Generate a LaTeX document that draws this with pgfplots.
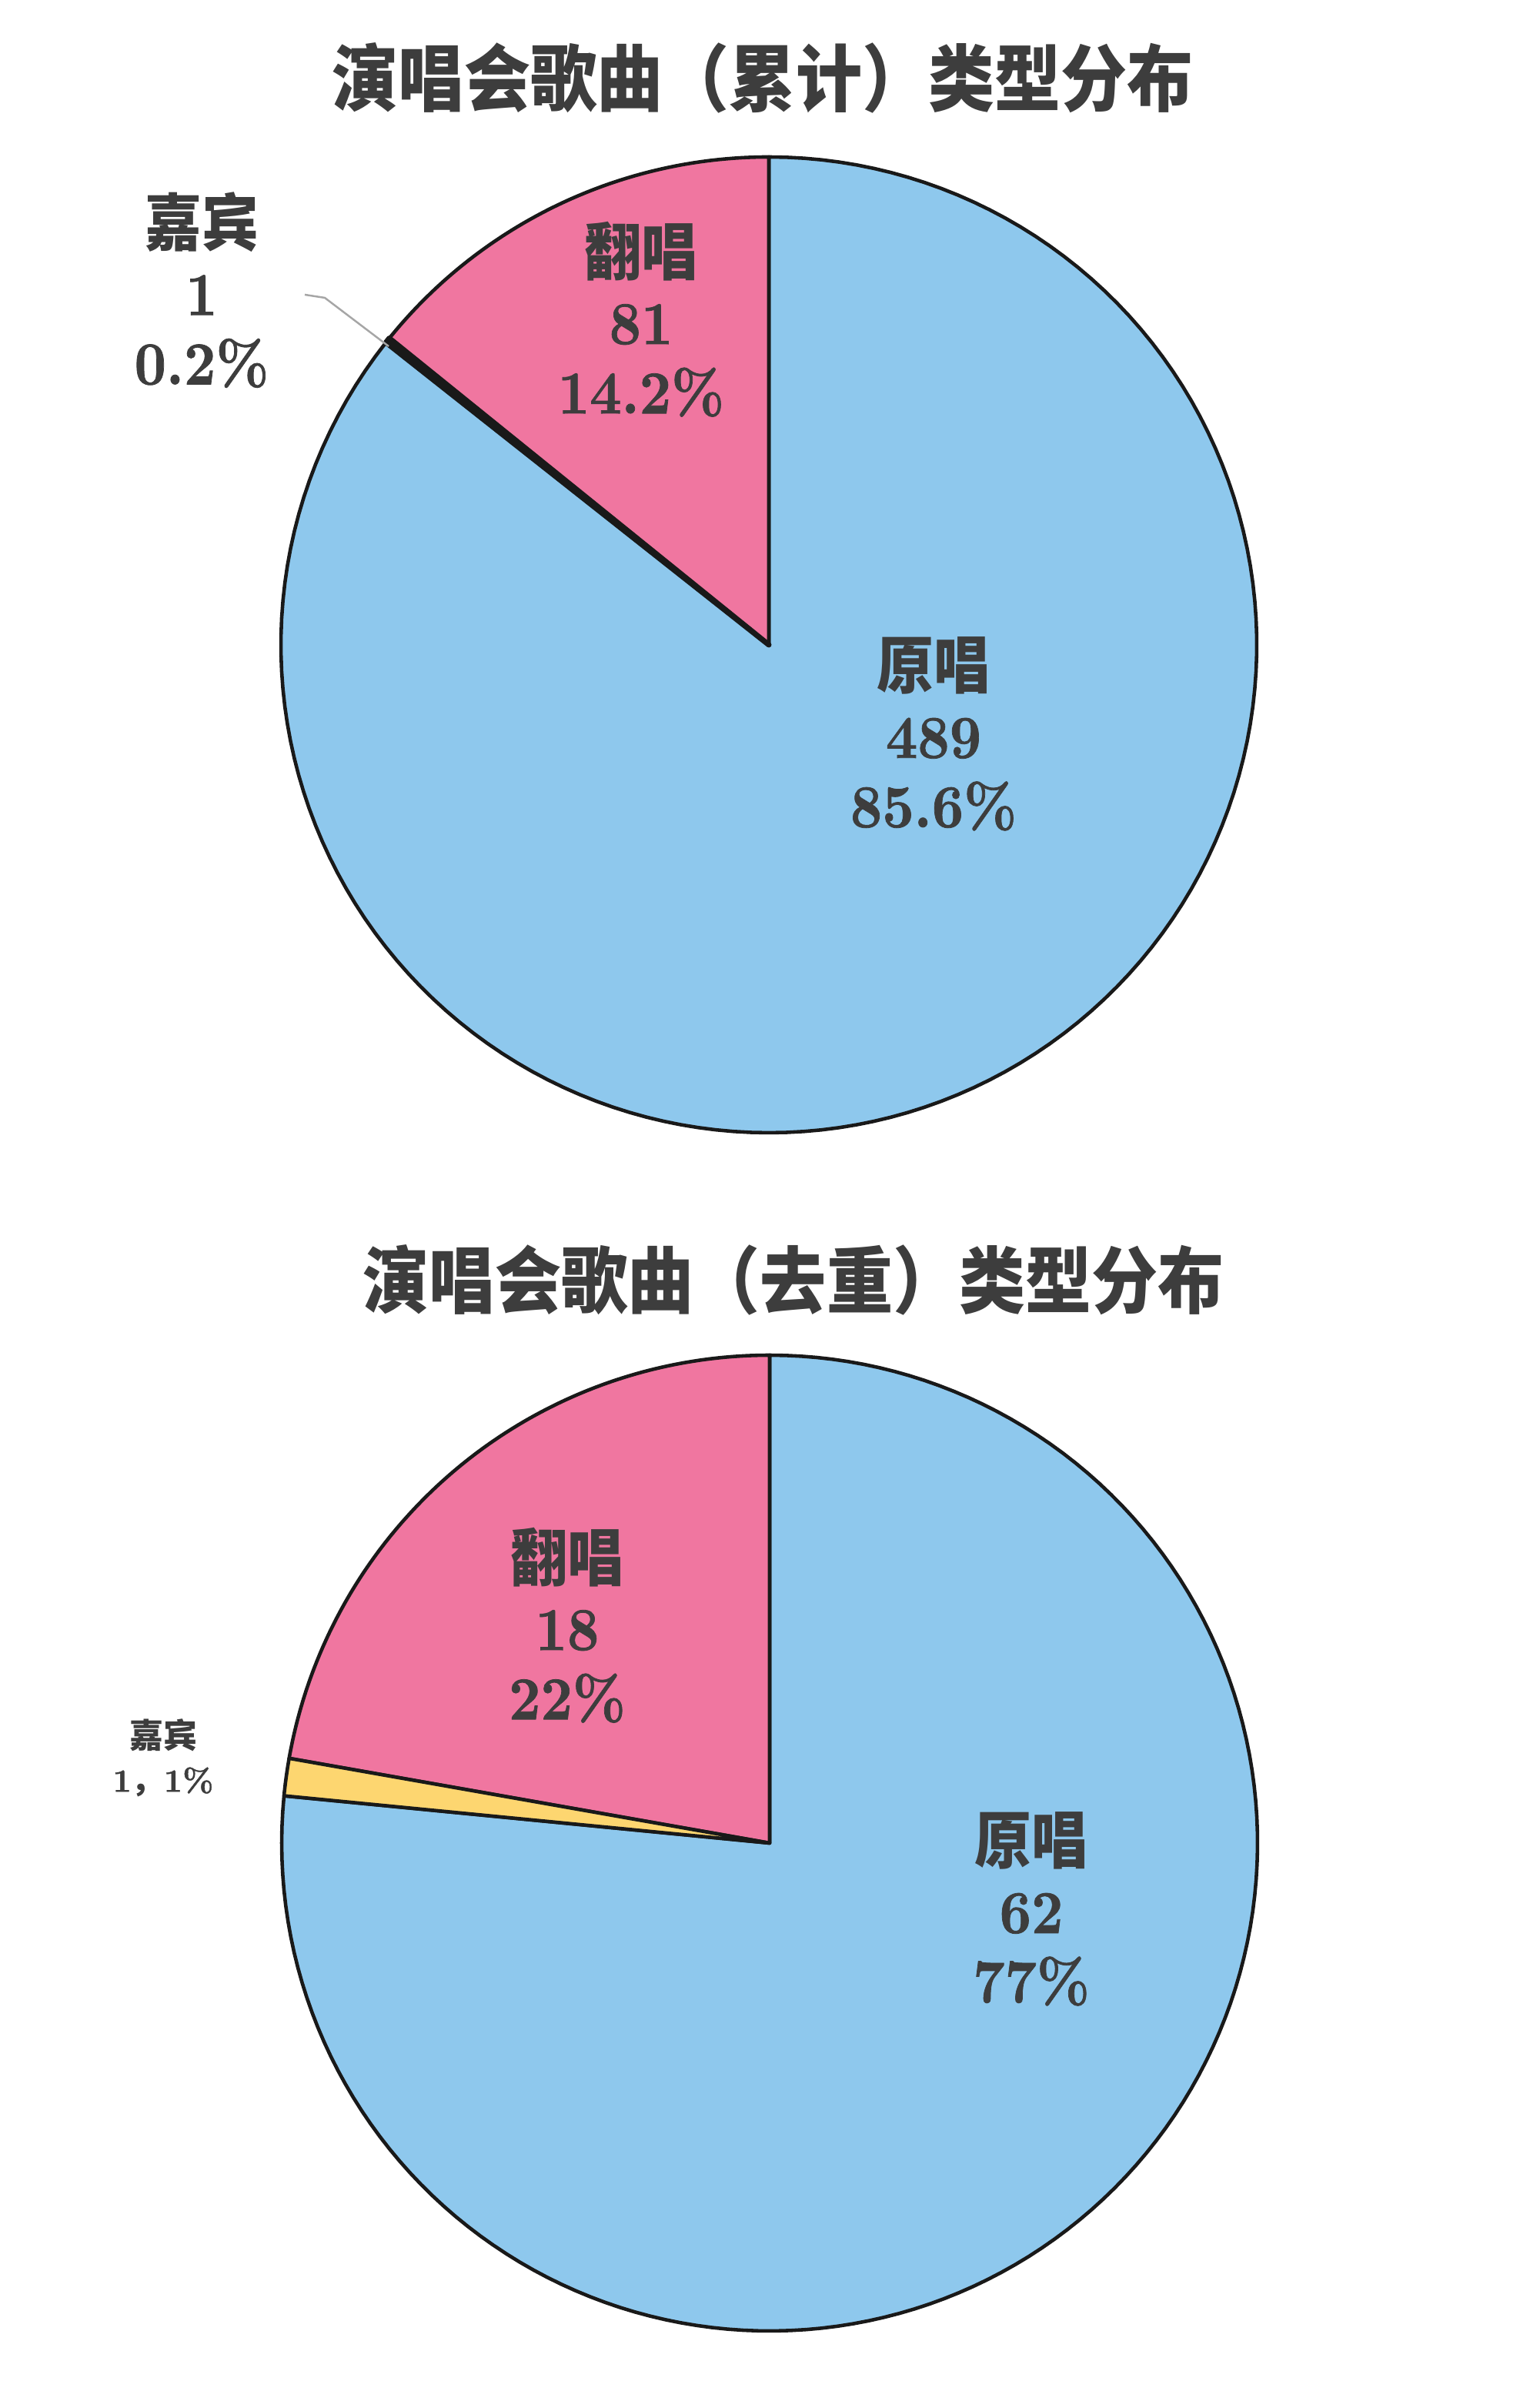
\documentclass[border=0pt]{standalone}
\usepackage{fontspec}
\usepackage{graphicx}
\usepackage{pgfplots}
\pgfplotsset{compat=1.18}
\newfontfamily\cjk{Noto Sans CJK SC}
\newfontfamily\numf{lmroman10-bold.otf}[FakeBold=1]
\definecolor{cblue}{HTML}{8EC8ED}
\definecolor{cpink}{HTML}{F076A0}
\definecolor{cyellow}{HTML}{FDD670}
\definecolor{ctext}{HTML}{3D3D3D}
% data: counts
\def\TopOrig{489}\def\TopGuest{1}\def\TopCover{81}
\def\BotOrig{62}\def\BotGuest{1}\def\BotCover{18}
\pgfmathsetmacro\TopTot{\TopOrig+\TopGuest+\TopCover}
\pgfmathsetmacro\TopB{90+360*(\TopCover/\TopTot)}
\pgfmathsetmacro\TopC{\TopB+360*(\TopGuest/\TopTot)}
\pgfmathsetmacro\BotTot{\BotOrig+\BotGuest+\BotCover}
\pgfmathsetmacro\BotB{90+360*(\BotCover/\BotTot)}
\pgfmathsetmacro\BotC{\BotB+360*(\BotGuest/\BotTot)}
\newcommand{\slice}[4][1.3pt]{%
  \addplot[fill=#4, draw=black!90, line width=#1, line join=round, domain=#2:#3, samples=150, variable=\t] ({cos(\t)},{sin(\t)}) -- (0,0) -- cycle;}
\pgfplotsset{pie/.style={hide axis, scale only axis, width=12.68cm, height=12.68cm, xmin=-1, xmax=1, ymin=-1, ymax=1, clip=false, anchor=center}}
\newcommand{\lab}[3]{\scalebox{1}[1.1]{\begin{tabular}{@{}c@{}}{\cjk\bfseries\fontsize{21}{23.3}\selectfont #1}\\#2\\#3\end{tabular}}}
\newcommand{\ttl}[1]{\scalebox{1}[1.1]{\cjk\bfseries\fontsize{24.5}{28}\selectfont #1}}
\begin{document}
\begin{tikzpicture}
\useasboundingbox (0,0) rectangle (20,31.07);
\begin{axis}[pie, at={(9.99cm,22.69cm)}]
\slice{\TopC}{450}{cblue}
\slice{90}{\TopB}{cpink}
\slice[2pt]{\TopB}{\TopC}{cyellow}
\end{axis}
\begin{axis}[pie, at={(10.0cm,7.12cm)}]
\slice{\BotC}{450}{cblue}
\slice{90}{\BotB}{cpink}
\slice{\BotB}{\BotC}{cyellow}
\end{axis}
\tikzset{lbl/.style={text=ctext, inner sep=0pt, font=\numf\fontsize{20.5}{23.3}\selectfont}}
\node[text=ctext] at (9.91,30.06) {\ttl{演唱会歌曲（累计）类型分布}};
\node[lbl] at (12.13,21.42) {\lab{原唱}{489}{85.6\%}};
\node[lbl] at (8.33,26.81) {\lab{翻唱}{81}{14.2\%}};
\node[lbl] at (2.62,27.19) {\lab{嘉宾}{1}{0.2\%}};
\draw[black!35, line width=0.7pt] (3.96,27.24) -- (4.22,27.20) -- (5.05,26.57);
\node[text=ctext] at (10.31,14.44) {\ttl{演唱会歌曲（去重）类型分布}};
\node[lbl] at (7.37,9.84) {\lab{翻唱}{18}{22\%}};
\node[lbl] at (13.40,6.15) {\lab{原唱}{62}{77\%}};
\node[text=ctext, align=center, font=\numf\fontsize{12}{16}\selectfont] at (2.12,8.225) {{\cjk\bfseries\fontsize{12.5}{16}\selectfont 嘉宾}\\1{\cjk\bfseries ，}1\%};
\end{tikzpicture}
\end{document}
